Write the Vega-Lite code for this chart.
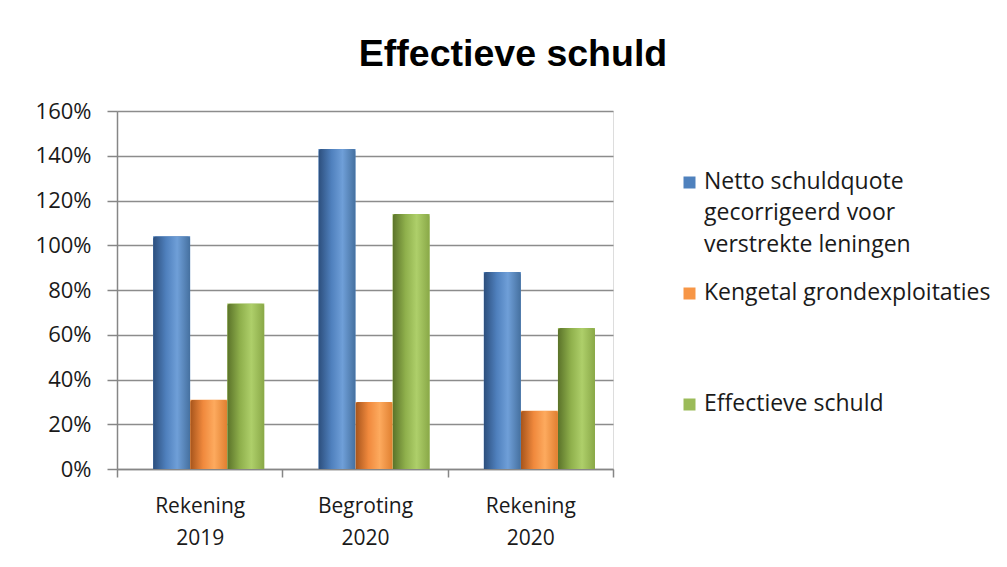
{
  "$schema": "https://vega.github.io/schema/vega-lite/v6.json",
  "width": 496,
  "height": 358,
  "autosize": {"type": "none"},
  "padding": {"left": 117, "top": 111, "right": 394, "bottom": 98},
  "background": "white",
  "title": {
    "text": "Effectieve schuld",
    "font": "Liberation Sans",
    "fontSize": 37.5,
    "fontWeight": "bold",
    "color": "#000000",
    "anchor": "middle",
    "frame": "bounds",
    "offset": 27
  },
  "data": {
    "values": [
      {"periode": "Rekening 2019", "serie": "Netto schuldquote gecorrigeerd voor verstrekte leningen", "waarde": 1.04},
      {"periode": "Rekening 2019", "serie": "Kengetal grondexploitaties", "waarde": 0.31},
      {"periode": "Rekening 2019", "serie": "Effectieve schuld", "waarde": 0.74},
      {"periode": "Begroting 2020", "serie": "Netto schuldquote gecorrigeerd voor verstrekte leningen", "waarde": 1.43},
      {"periode": "Begroting 2020", "serie": "Kengetal grondexploitaties", "waarde": 0.30},
      {"periode": "Begroting 2020", "serie": "Effectieve schuld", "waarde": 1.14},
      {"periode": "Rekening 2020", "serie": "Netto schuldquote gecorrigeerd voor verstrekte leningen", "waarde": 0.88},
      {"periode": "Rekening 2020", "serie": "Kengetal grondexploitaties", "waarde": 0.26},
      {"periode": "Rekening 2020", "serie": "Effectieve schuld", "waarde": 0.63}
    ]
  },
  "encoding": {
    "x": {
      "field": "periode",
      "type": "nominal",
      "scale": {"domain": ["Rekening 2019", "Begroting 2020", "Rekening 2020"], "paddingInner": 0, "paddingOuter": 0},
      "axis": {
        "title": null,
        "labelAngle": 0,
        "labelExpr": "split(datum.label, ' ')",
        "labelFont": "Open Sans",
        "labelFontSize": 21,
        "labelColor": "#1a1a1a",
        "labelLineHeight": 32,
        "labelPadding": 18,
        "tickSize": 8,
        "tickBand": "extent",
        "tickColor": "#868686",
        "tickWidth": 1.5,
        "domainColor": "#868686",
        "domainWidth": 1.5,
        "grid": false
      }
    },
    "xOffset": {
      "field": "serie",
      "type": "nominal",
      "scale": {
        "domain": ["Netto schuldquote gecorrigeerd voor verstrekte leningen", "Kengetal grondexploitaties", "Effectieve schuld"],
        "paddingInner": 0,
        "paddingOuter": 0.73,
        "align": 0.667
      }
    },
    "y": {
      "field": "waarde",
      "type": "quantitative",
      "scale": {"domain": [0, 1.6], "nice": false},
      "axis": {
        "title": null,
        "format": ".0%",
        "values": [0, 0.2, 0.4, 0.6, 0.8, 1.0, 1.2, 1.4, 1.6],
        "labelFont": "Open Sans",
        "labelFontSize": 22,
        "labelColor": "#1a1a1a",
        "labelPadding": 16,
        "tickSize": 10,
        "tickColor": "#868686",
        "tickWidth": 1.5,
        "domainColor": "#868686",
        "domainWidth": 1.5,
        "grid": true,
        "gridColor": "#8c8c8c",
        "gridWidth": 1.5
      }
    }
  },
  "layer": [
    {
      "mark": {"type": "bar"},
      "encoding": {
        "color": {
          "field": "serie",
          "type": "nominal",
          "scale": {
            "domain": ["Netto schuldquote gecorrigeerd voor verstrekte leningen", "Kengetal grondexploitaties", "Effectieve schuld"],
            "range": ["#4F81BD", "#F79646", "#9BBB59"]
          },
          "legend": {
            "orient": "none",
            "legendX": 561,
            "legendY": 60,
            "title": null,
            "symbolType": "square",
            "symbolSize": 144,
            "symbolStrokeWidth": 0,
            "labelFont": "Open Sans",
            "labelFontSize": 23,
            "labelColor": "#1a1a1a",
            "labelBaseline": "top",
            "labelOffset": 3,
            "labelLimit": 400,
            "rowPadding": 24,
            "padding": 0,
            "labelExpr": "datum.label == 'Netto schuldquote gecorrigeerd voor verstrekte leningen' ? ['Netto schuldquote', 'gecorrigeerd voor', 'verstrekte leningen'] : datum.label == 'Kengetal grondexploitaties' ? ['Kengetal grondexploitaties', '', ''] : datum.label",
            "encode": {"labels": {"update": {"lineHeight": {"value": 31.5}, "dy": {"value": -12}}}}
          }
        }
      }
    },
    {
      "transform": [{"filter": "datum.serie == 'Netto schuldquote gecorrigeerd voor verstrekte leningen'"}],
      "mark": {
        "type": "bar",
        "cornerRadiusTopLeft": 3,
        "cornerRadiusTopRight": 3,
        "fill": {
          "gradient": "linear", "x1": 0, "x2": 1, "y1": 0, "y2": 0,
          "stops": [
            {"offset": 0, "color": "#2c4e7c"},
            {"offset": 0.35, "color": "#4f80bd"},
            {"offset": 0.65, "color": "#6f9fd8"},
            {"offset": 1, "color": "#45709f"}
          ]
        }
      }
    },
    {
      "transform": [{"filter": "datum.serie == 'Kengetal grondexploitaties'"}],
      "mark": {
        "type": "bar",
        "cornerRadiusTopLeft": 3,
        "cornerRadiusTopRight": 3,
        "fill": {
          "gradient": "linear", "x1": 0, "x2": 1, "y1": 0, "y2": 0,
          "stops": [
            {"offset": 0, "color": "#a6541b"},
            {"offset": 0.35, "color": "#f0893d"},
            {"offset": 0.65, "color": "#fdaa5e"},
            {"offset": 1, "color": "#e07f30"}
          ]
        }
      }
    },
    {
      "transform": [{"filter": "datum.serie == 'Effectieve schuld'"}],
      "mark": {
        "type": "bar",
        "cornerRadiusTopLeft": 3,
        "cornerRadiusTopRight": 3,
        "fill": {
          "gradient": "linear", "x1": 0, "x2": 1, "y1": 0, "y2": 0,
          "stops": [
            {"offset": 0, "color": "#5a7229"},
            {"offset": 0.35, "color": "#8fb04c"},
            {"offset": 0.65, "color": "#aecf6a"},
            {"offset": 1, "color": "#89a847"}
          ]
        }
      }
    }
  ]
}
